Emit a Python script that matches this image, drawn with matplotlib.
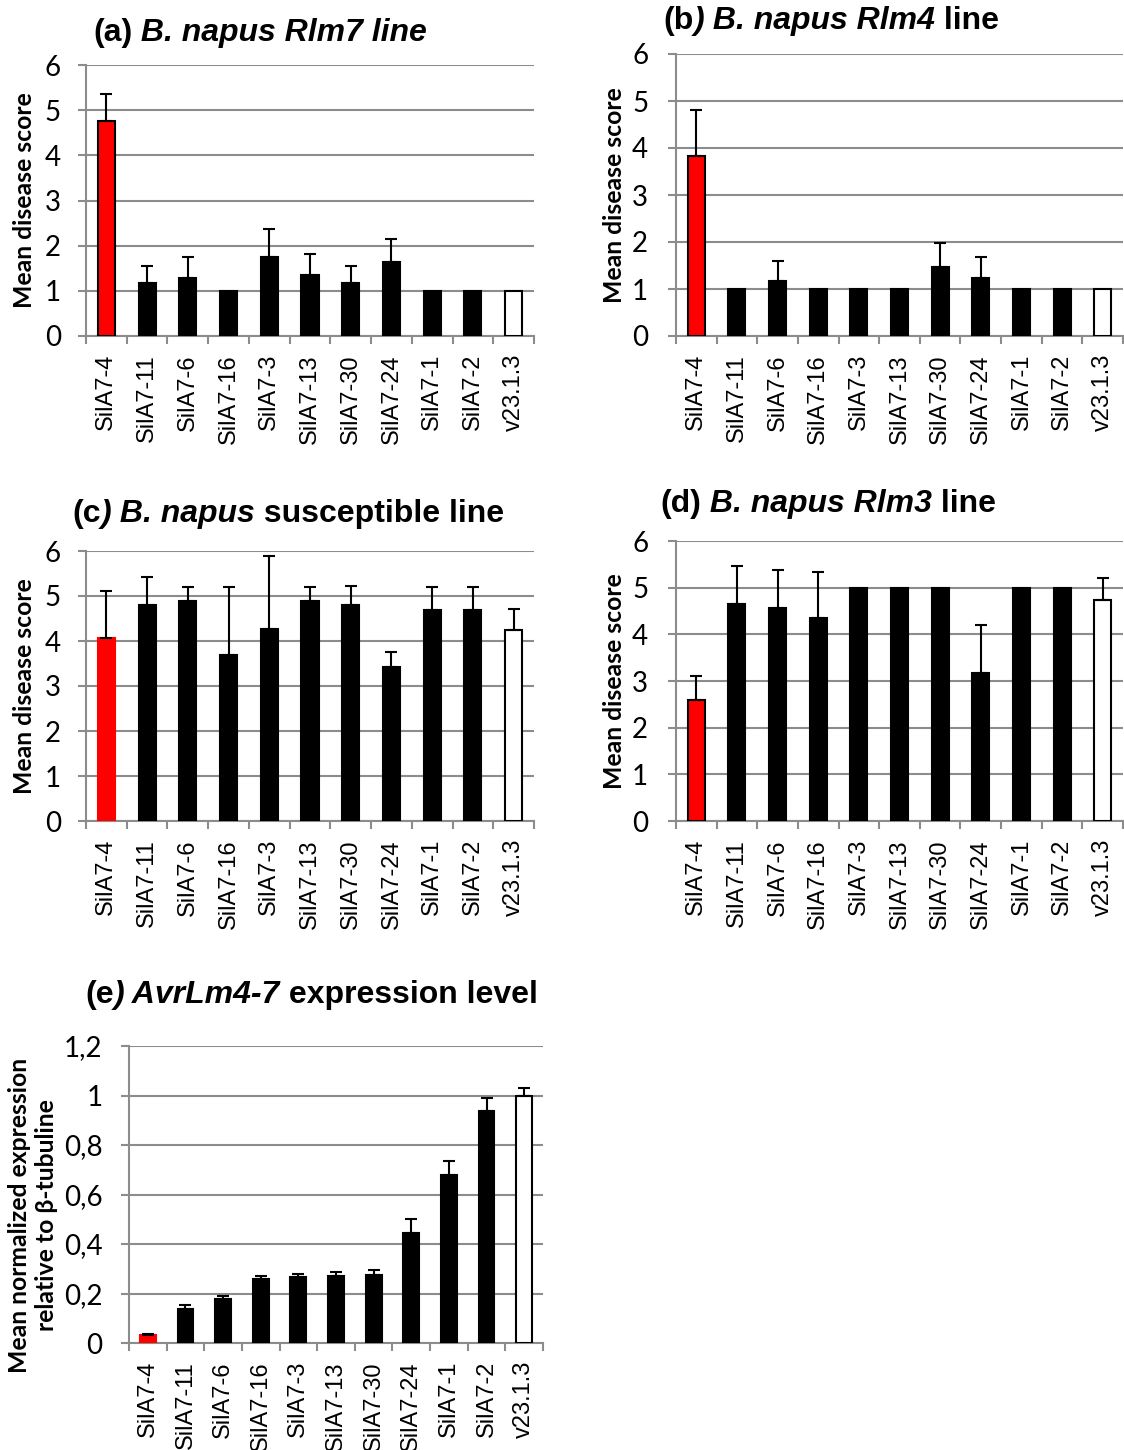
import matplotlib
matplotlib.use("Agg")
import matplotlib.pyplot as plt
import numpy as np

# isolate names, same order in every panel
lines = ["SilA7-4", "SilA7-11", "SilA7-6", "SilA7-16", "SilA7-3", "SilA7-13",
         "SilA7-30", "SilA7-24", "SilA7-1", "SilA7-2", "v23.1.3"]

# (a) Rlm7 line: mean disease score and upper error
rlm7_mean = [4.75, 1.17, 1.28, 1.0, 1.76, 1.34, 1.17, 1.63, 1.0, 1.0, 1.0]
rlm7_err = [0.61, 0.38, 0.46, 0.0, 0.61, 0.48, 0.38, 0.52, 0.0, 0.0, 0.0]

# (b) Rlm4 line
rlm4_mean = [3.82, 1.0, 1.18, 1.0, 1.0, 1.0, 1.46, 1.24, 1.0, 1.0, 1.0]
rlm4_err = [0.98, 0.0, 0.41, 0.0, 0.0, 0.0, 0.51, 0.45, 0.0, 0.0, 0.0]

# (c) susceptible line
susc_mean = [4.06, 4.81, 4.90, 3.69, 4.27, 4.90, 4.79, 3.43, 4.70, 4.70, 4.25]
susc_err = [1.05, 0.61, 0.31, 1.50, 1.61, 0.31, 0.43, 0.32, 0.50, 0.50, 0.47]

# (d) Rlm3 line
rlm3_mean = [2.59, 4.66, 4.56, 4.35, 5.0, 5.0, 5.0, 3.18, 5.0, 5.0, 4.74]
rlm3_err = [0.51, 0.80, 0.82, 0.98, 0.0, 0.0, 0.0, 1.03, 0.0, 0.0, 0.46]

# (e) AvrLm4-7 expression relative to beta-tubuline
expr_mean = [0.034, 0.138, 0.176, 0.259, 0.267, 0.271, 0.275, 0.446, 0.677, 0.938, 1.0]
expr_err = [0.003, 0.016, 0.013, 0.013, 0.012, 0.016, 0.021, 0.055, 0.058, 0.051, 0.032]

GRID = "#8c8c8c"
W, H = 1124, 1450

fig = plt.figure(figsize=(W / 100, H / 100), dpi=100)


def px_axes(left, top, right, bottom):
    return fig.add_axes([left / W, 1 - bottom / H, (right - left) / W, (bottom - top) / H])


def bar_panel(ax, means, errs, ymax, ystep, red_edge=True, comma=False, ypad=12):
    means = np.asarray(means)
    errs = np.asarray(errs)
    n = len(lines)
    x = np.arange(n)
    fills = ["#ff0000"] + ["black"] * (n - 2) + ["white"]
    edges = ["black" if red_edge else "#ff0000"] + ["black"] * (n - 1)
    ax.bar(x, means, width=0.42, color=fills, edgecolor=edges, linewidth=1.5, zorder=3)
    m = errs > 0
    ax.errorbar(x[m], means[m], yerr=[np.zeros(m.sum()), errs[m]], fmt="none",
                ecolor="black", elinewidth=1.5, capsize=4, capthick=1.5, zorder=4)

    ax.set_xlim(-0.5, n - 0.5)
    ax.set_ylim(0, ymax)
    ticks = np.arange(0, ymax + ystep / 2, ystep)
    ax.set_yticks(ticks)
    if comma:
        ax.set_yticklabels([("%g" % round(t, 1)).replace(".", ",") for t in ticks])
    ax.yaxis.grid(True, color=GRID, linewidth=1.5)
    ax.set_axisbelow(True)
    for s in ("top", "right"):
        ax.spines[s].set_visible(False)
    for s in ("left", "bottom"):
        ax.spines[s].set_color(GRID)
        ax.spines[s].set_linewidth(1.5)

    ax.set_xticks(x)
    ax.set_xticklabels(lines, rotation=90, fontsize=17, family="Liberation Sans")
    ax.set_xticks(np.arange(-0.5, n), minor=True)
    ax.tick_params(axis="x", which="major", length=0, pad=13)
    ax.tick_params(axis="x", which="minor", length=6, width=1.5, color=GRID)
    ax.tick_params(axis="y", length=6, width=1.5, color=GRID, pad=ypad, labelsize=20)
    for lab in ax.get_yticklabels():
        lab.set_family("Lato")
    ax.patch.set_alpha(0)


def rich_title(x, y, parts, size=23):
    # draw pieces one after another, measuring each to place the next
    fig.canvas.draw()
    r = fig.canvas.get_renderer()
    for txt, style in parts:
        t = fig.text(x / W, 1 - y / H, txt, fontsize=size, fontweight="bold",
                     fontstyle=style, family="Liberation Sans", va="baseline")
        x += t.get_window_extent(r).width


ax_a = px_axes(86, 65, 534, 336)
bar_panel(ax_a, rlm7_mean, rlm7_err, 6, 1)
ax_b = px_axes(676, 54, 1123, 336)
bar_panel(ax_b, rlm4_mean, rlm4_err, 6, 1, ypad=14)
ax_c = px_axes(86, 551, 534, 821)
bar_panel(ax_c, susc_mean, susc_err, 6, 1, red_edge=False)
ax_d = px_axes(676, 541, 1123, 821)
bar_panel(ax_d, rlm3_mean, rlm3_err, 6, 1, ypad=14)
ax_e = px_axes(129, 1046, 543, 1343)
bar_panel(ax_e, expr_mean, expr_err, 1.2, 0.2, red_edge=False, comma=True, ypad=13)

for ax in (ax_a, ax_b, ax_c, ax_d):
    ax.set_ylabel("Mean disease score", fontsize=17.8, fontweight="bold", family="Lato")
    ax.yaxis.set_label_coords(-0.112, 0.5)
ax_e.set_ylabel("Mean normalized expression\nrelative to \u03b2-tubuline", fontsize=17.8,
                fontweight="bold", family="Lato", linespacing=1.2)
ax_e.yaxis.set_label_coords(-0.171, 0.43)

rich_title(93, 41, [("(a)", "normal"), (" B. napus Rlm7 line", "italic")])
rich_title(663, 29, [("(b", "normal"), (")", "italic"), (" B. napus Rlm4", "italic"), (" line", "normal")])
rich_title(72, 522, [("(c", "normal"), (")", "italic"), (" B. napus", "italic"), (" susceptible line", "normal")])
rich_title(660, 512, [("(d)", "normal"), (" B. napus Rlm3", "italic"), (" line", "normal")])
rich_title(85, 1003, [("(e", "normal"), (")", "italic"), (" AvrLm4-7", "italic"), (" expression level", "normal")])

fig.savefig("out.png", dpi=100)
